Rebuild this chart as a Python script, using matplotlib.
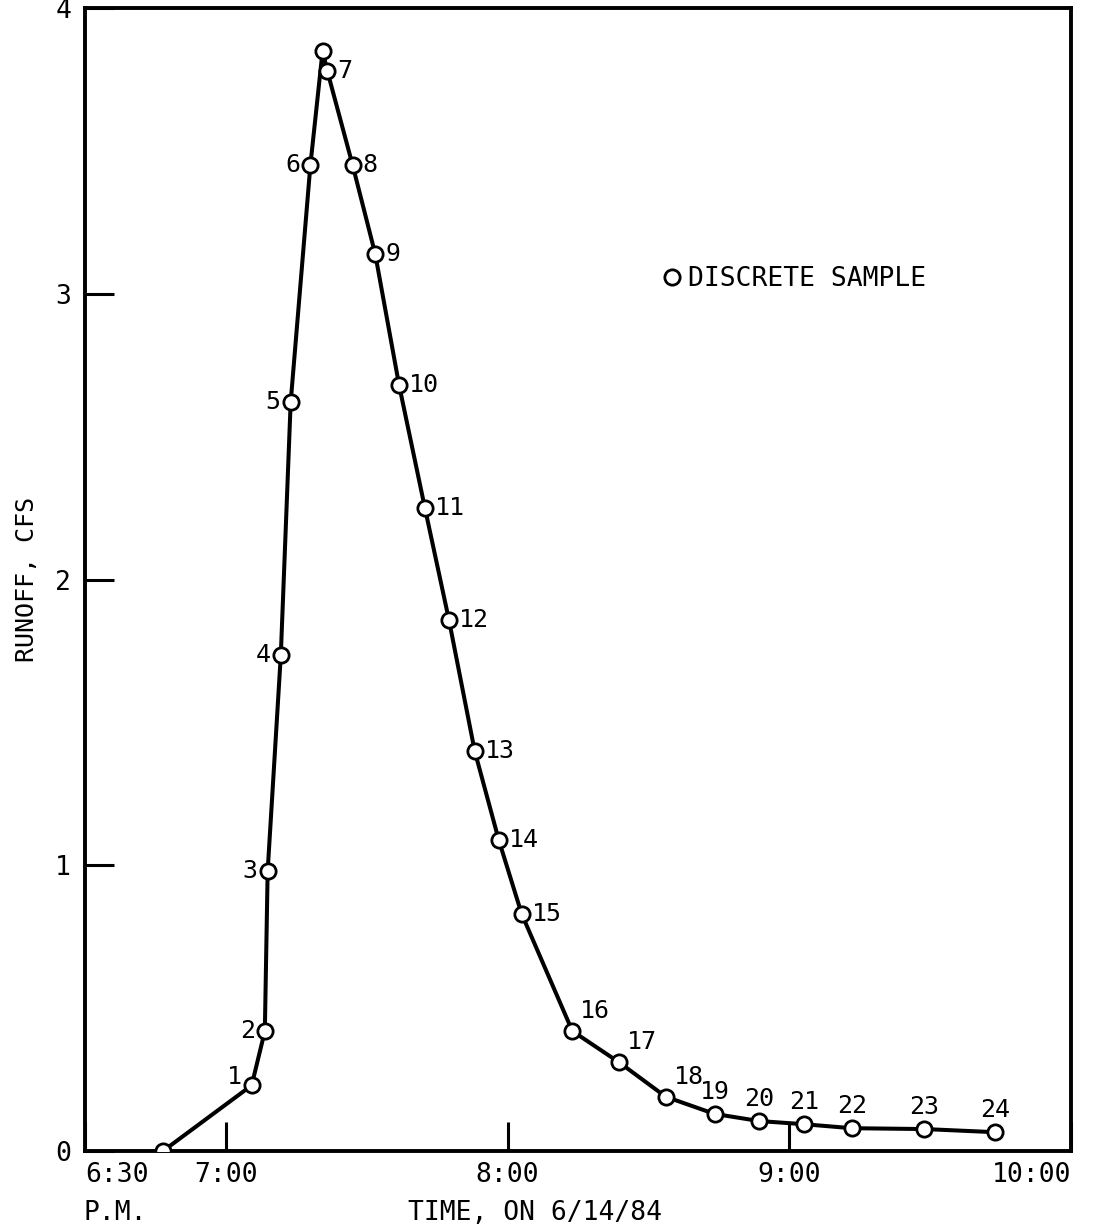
import matplotlib
matplotlib.use("Agg")
import matplotlib.pyplot as plt
from matplotlib.lines import Line2D

# ---- data (time in minutes after 6:30 P.M., runoff in cfs) ----
t_min = [16.6, 35.5, 38.3, 38.9, 41.7, 43.8, 48.0, 50.6, 51.6, 57.0, 61.8,
         66.9, 72.4, 77.5, 83.0, 88.1, 93.0, 103.8, 113.8, 123.7, 134.1,
         143.6, 153.1, 163.3, 178.8, 193.9]
runoff = [0.0, 0.23, 0.42, 0.98, 1.735, 2.62, 3.45, 3.85, 3.78, 3.45, 3.14,
          2.68, 2.25, 1.86, 1.40, 1.09, 0.83, 0.42, 0.31, 0.19, 0.13,
          0.105, 0.094, 0.08, 0.077, 0.066]
sample_labels = ["", "1", "2", "3", "4", "5", "6", "", "7", "8", "9", "10",
                 "11", "12", "13", "14", "15", "16", "17", "18", "19", "20",
                 "21", "22", "23", "24"]
x_ticks = [0, 30, 90, 150, 210]
x_ticklabels = ["6:30", "7:00", "8:00", "9:00", "10:00"]
y_ticks = [0, 1, 2, 3, 4]
y_ticklabels = ["0", "1", "2", "3", "4"]

# label placement style: l = left, r = right, u = above, ur = upper right
placement = ["", "l", "l", "l", "l", "l", "l", "", "r", "r", "r", "r",
             "r", "r", "r", "r", "r", "ur", "ur", "ur", "u", "u",
             "u", "u", "u", "u"]

FONT = "DejaVu Sans Mono"
plt.rcParams["font.family"] = [FONT, "DejaVu Sans"]

fig = plt.figure(figsize=(10.93, 12.32), dpi=100)
ax = fig.add_axes([0.0778, 0.0657, 0.902, 0.9278])

ax.plot(t_min, runoff, color="black", lw=2.9, zorder=2)
ax.plot(t_min, runoff, ls="none", marker="o", ms=11, mfc="white",
        mec="black", mew=2.0, zorder=3)

px = 72 / 100.0  # points per pixel
for x, y, lab, p in zip(t_min, runoff, sample_labels, placement):
    if not lab:
        continue
    if p == "l":
        off, ha, va = (-10 * px, 0), "right", "center"
        if lab == "1":
            off = (-10 * px, 8 * px)
    elif p == "r":
        off, ha, va = (10 * px, 0), "left", "center"
    elif p == "ur":
        off, ha, va = (8 * px, 8 * px), "left", "bottom"
    else:
        off, ha, va = (0, 10 * px), "center", "bottom"
    ax.annotate(lab, (x, y), xytext=off, textcoords="offset points",
                ha=ha, va=va, fontsize=18, family=FONT, zorder=4)

ax.set_xlim(0, 210)
ax.set_ylim(0, 4)
ax.set_xticks(x_ticks)
ax.set_xticklabels(x_ticklabels, fontsize=19, family=FONT)
ax.set_yticks(y_ticks)
ax.set_yticklabels(y_ticklabels, fontsize=19, family=FONT)
ax.tick_params(axis="both", direction="in", length=21, width=2.2,
               colors="black")
ax.tick_params(axis="x", pad=8)
ax.tick_params(axis="y", pad=10)
xl = ax.get_xticklabels()
xl[0].set_ha("left")
xl[-1].set_ha("right")

for s in ax.spines.values():
    s.set_linewidth(2.8)

ax.set_ylabel("RUNOFF, CFS", fontsize=18, family=FONT, labelpad=12)
fig.text(535 / 1093, 1 - 1213 / 1232, "TIME, ON 6/14/84", fontsize=19,
         family=FONT, ha="center", va="center")
fig.text(84 / 1093, 1 - 1213 / 1232, "P.M.", fontsize=19, family=FONT,
         ha="left", va="center")

handle = Line2D([], [], ls="none", marker="o", ms=11, mfc="white",
                mec="black", mew=2.0)
ax.legend([handle], ["DISCRETE SAMPLE"], loc="center left",
          bbox_to_anchor=(0.563, 0.763), frameon=False, handlelength=0.6,
          handletextpad=0.3, prop={"family": FONT, "size": 19})

fig.savefig("out.png", dpi=100, facecolor="white")
